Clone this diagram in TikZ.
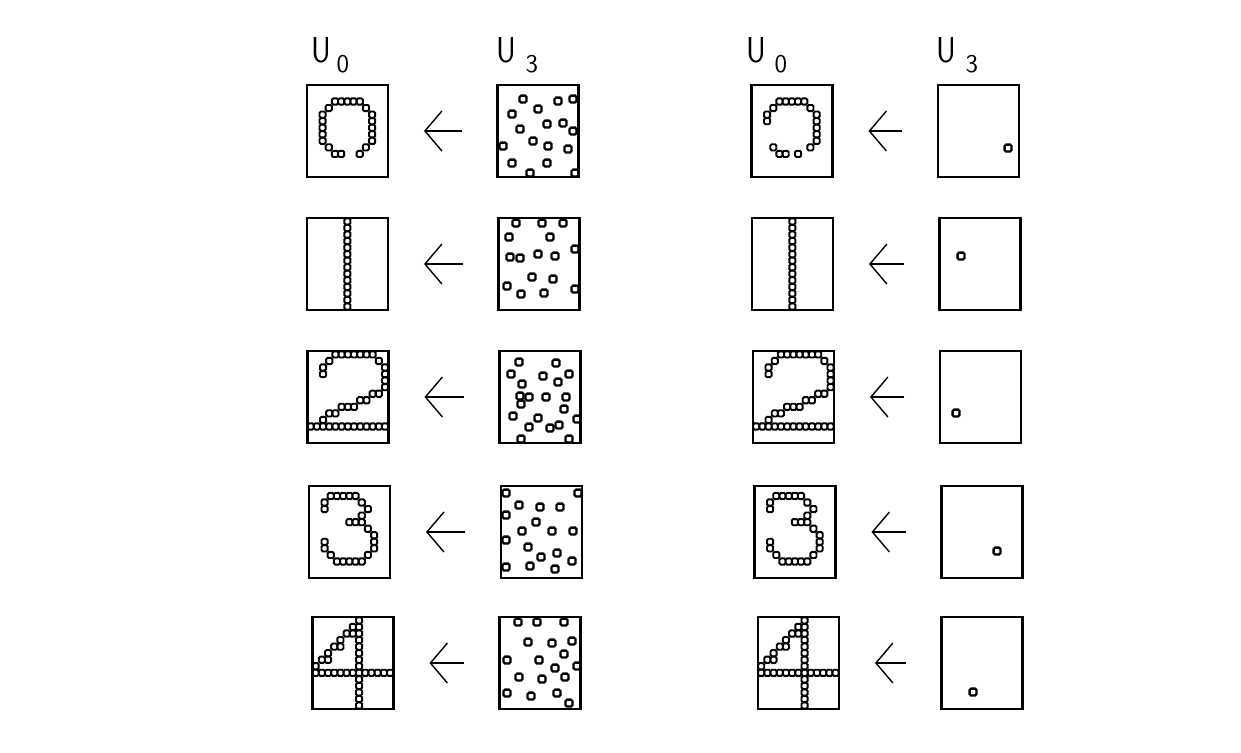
\documentclass[tikz,border=0pt]{standalone}
\usepackage{fontspec}
\usepackage{tikz}
\usetikzlibrary{arrows.meta,calc}
\definecolor{ink}{RGB}{0,0,0}
\tikzset{
  every picture/.style={color=ink, line width=1.1pt},
  frame/.style={draw=ink, line width=1.3pt, minimum width=1.62cm, minimum height=1.84cm, inner sep=0pt, outer sep=0pt},
  pix/.style={draw=ink, line width=1.1pt, rounded corners=0.8pt},
  speck/.style={draw=ink, line width=1.3pt, rounded corners=0.8pt},
  back/.style={-{Straight Barb[length=3.4mm,width=8mm]}, line width=0.8pt, shorten <=0.72cm, shorten >=0.72cm},
  lbl/.style={font=\sffamily\fontsize{20.5}{24}\selectfont, inner sep=0pt, anchor=base west},
}
% one lit cell of a digit, counted from the frame's top left corner
\newcommand{\pixels}[2]{\foreach \px/\py in {#2} \draw[pix] ($(#1.north west)+(\px*6.2+0.1,\py*6.55+0.3)$) rectangle ++(6.1,6.2);}
\newcommand{\specks}[1]{\foreach \sx/\sy in {#1} \draw[speck] (\sx-3.4,\sy-3.4) rectangle ++(6.8,6.8);}

\begin{document}
\begin{tikzpicture}[x=0.02cm, y=-0.02cm]
  \useasboundingbox (0,0) rectangle (1241,752);
  % frames and arrows, row by row
  \foreach \row/\y/\xa/\xb/\xc/\xd in {1/131/347.5/538/792/978.5, 2/264/347.5/539/792.5/980, 3/397/348/540/793.5/980.5, 4/532/349.5/541.5/795/982, 5/663/353/540/798.5/982}{
    \node[frame] (a\row) at (\xa,\y) {};
    \node[frame] (b\row) at (\xb,\y) {};
    \node[frame] (c\row) at (\xc,\y) {};
    \node[frame] (d\row) at (\xd,\y) {};
    \draw[back] (b\row.west) -- (a\row.east);
    \draw[back] (d\row.west) -- (c\row.east);
  }
  % column heads
  \node[lbl] (u0a) at (311,62) {\scalebox{0.85}[1]{U}\hspace{0.1cm}\raisebox{-0.2cm}{\fontsize{14.5}{15}\selectfont 0}};
  \node[lbl] (u3a) at (496,62) {\scalebox{0.85}[1]{U}\hspace{0.18cm}\raisebox{-0.2cm}{\fontsize{14.5}{15}\selectfont 3}};
  \node[lbl] (u0c) at (746,62) {\scalebox{0.85}[1]{U}\hspace{0.16cm}\raisebox{-0.2cm}{\fontsize{14.5}{15}\selectfont 0}};
  \node[lbl] (u3c) at (936,62) {\scalebox{0.85}[1]{U}\hspace{0.18cm}\raisebox{-0.2cm}{\fontsize{14.5}{15}\selectfont 3}};
  % the stored digits
  \pixels{a1}{4/2,5/2,6/2,7/2,8/2, 3/3,9/3, 2/4,2/5,2/6,2/7,2/8, 10/4,10/5,10/6,10/7,10/8, 3/9,9/9, 4/10,5/10,8/10}
  \pixels{c1}{4/2,5/2,6/2,7/2,8/2, 3/3,9/3, 2/4,2/5, 10/4,10/5,10/6,10/7,10/8, 3/9,9/9, 4/10,5/10,7/10}
  \foreach \b in {a,c}{
    \pixels{\b2}{6/0,6/1,6/2,6/3,6/4,6/5,6/6,6/7,6/8,6/9,6/10,6/11,6/12,6/13}
    \pixels{\b3}{4/0,5/0,6/0,7/0,8/0,9/0,10/0, 3/1,11/1, 2/2,12/2, 2/3,12/3, 12/4,12/5, 10/6,11/6, 8/7,9/7, 5/8,6/8,7/8, 3/9,4/9, 2/10, 0/11,1/11,2/11,3/11,4/11,5/11,6/11,7/11,8/11,9/11,10/11,11/11,12/11}
    \pixels{\b4}{3/1,4/1,5/1,6/1,7/1, 2/2,8/2, 2/3,9/3, 8/4, 6/5,7/5,8/5, 9/6, 10/7, 2/8,10/8, 2/9,10/9, 3/10,9/10, 4/11,5/11,6/11,7/11,8/11}
    \pixels{\b5}{7/0,7/1,7/2,7/3,7/4,7/5,7/6,7/7,7/8,7/9,7/10,7/11,7/12,7/13, 0/8,1/8,2/8,3/8,4/8,5/8,6/8,8/8,9/8,10/8,11/8,12/8, 6/1,5/2,6/2,4/3,3/4,4/4,2/5,1/6,2/6,0/7}
  }
  % noisy inputs, left
  \specks{523/99, 558/101, 573/99, 512/114, 538/109, 547/124, 563/123, 520/129, 573/131, 533/141, 548/146, 568/149, 503/146, 512/163, 547/163, 530/173, 575/173}
  \specks{516/223, 542/223, 563/223, 509/237, 550/237, 575/249, 510/257, 520/258, 538/254, 555/256, 532/277, 553/279, 507/286, 521/294, 544/293, 575/289}
  \specks{519/362, 556/363, 511/374, 543/376, 569/374, 522/384, 558/382, 520/396, 529/397, 546/397, 566/397, 521/404, 564/409, 513/416, 529/427, 538/418, 550/428, 559/425, 577/419, 521/439, 569/439}
  \specks{506/493, 578/493, 519/505, 540/507, 560/507, 536/522, 522/531, 552/531, 573/531, 506/515, 506/540, 528/547, 541/557, 557/553, 572/561, 530/566, 555/569, 506/567}
  \specks{518/622, 537/622, 564/622, 528/642, 552/643, 572/641, 564/654, 507/660, 539/660, 555/668, 577/666, 519/677, 542/679, 565/677, 507/693, 531/696, 557/693, 569/703}
  % sparse inputs, right
  \specks{1008/148, 961/256, 956/413, 997/551, 973/692}
\end{tikzpicture}
\end{document}
